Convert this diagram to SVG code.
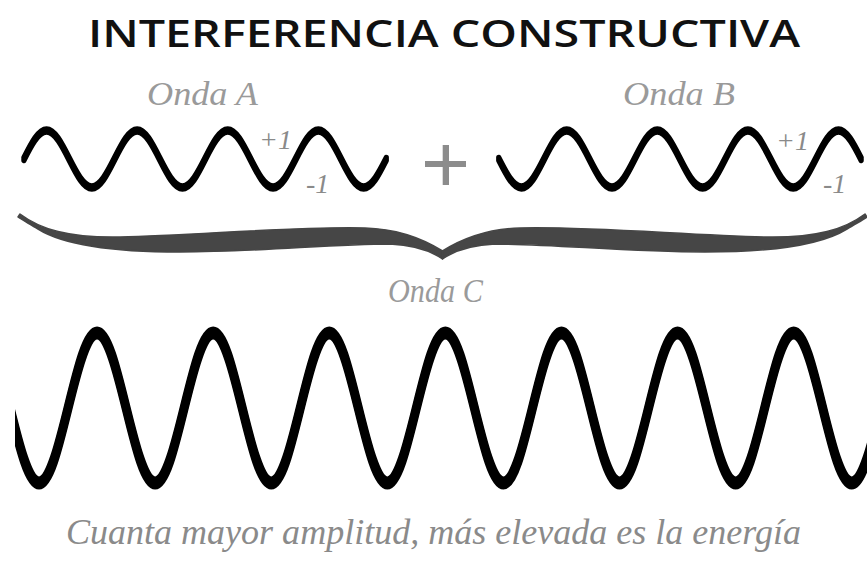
<svg xmlns="http://www.w3.org/2000/svg" xmlns:xlink="http://www.w3.org/1999/xlink" width="867" height="561" viewBox="0 0 867 561">
<style>
.wave{fill:none;stroke:#000;stroke-linecap:round;stroke-linejoin:round}
.sm{stroke-width:5}
.bg{stroke-width:8}
.lbl{font-family:"Liberation Serif","DejaVu Serif",serif;font-style:italic;fill:#9a9a9a}
.num{font-family:"Liberation Serif","DejaVu Serif",serif;font-style:italic;fill:#8a8a8a;font-size:28px}
.title{font-family:"Open Sans","Liberation Sans",sans-serif;font-weight:600;fill:#111;font-size:38px}
.brace{fill:#464646;stroke:#464646;stroke-width:1.5;stroke-linejoin:round}
</style>
<defs>
<path id="sw" d="M0,0 c7.387,-14.6 14.453,-28.5 22.65,-28.5 c8.197,0 15.263,13.9 22.65,28.5 c7.387,14.6 14.453,28.5 22.65,28.5 c8.197,0 15.263,-13.9 22.65,-28.5 c7.387,-14.6 14.453,-28.5 22.65,-28.5 c8.197,0 15.263,13.9 22.65,28.5 c7.387,14.6 14.453,28.5 22.65,28.5 c8.197,0 15.263,-13.9 22.65,-28.5 c7.387,-14.6 14.453,-28.5 22.65,-28.5 c8.197,0 15.263,13.9 22.65,28.5 c7.387,14.6 14.453,28.5 22.65,28.5 c8.197,0 15.263,-13.9 22.65,-28.5 c7.387,-14.6 14.453,-28.5 22.65,-28.5 c8.197,0 15.263,13.9 22.65,28.5 c7.387,14.6 14.453,28.5 22.65,28.5 c8.197,0 15.263,-13.9 22.65,-28.5"/>
<path id="bw" d="M10,408 c9.466,38.422 18.521,75 29.025,75 c10.504,0 19.559,-36.578 29.025,-75 c9.466,-38.422 18.521,-75 29.025,-75 c10.504,0 19.559,36.578 29.025,75 c9.466,38.422 18.521,75 29.025,75 c10.504,0 19.559,-36.578 29.025,-75 c9.466,-38.422 18.521,-75 29.025,-75 c10.504,0 19.559,36.578 29.025,75 c9.466,38.422 18.521,75 29.025,75 c10.504,0 19.559,-36.578 29.025,-75 c9.466,-38.422 18.521,-75 29.025,-75 c10.504,0 19.559,36.578 29.025,75 c9.466,38.422 18.521,75 29.025,75 c10.504,0 19.559,-36.578 29.025,-75 c9.466,-38.422 18.521,-75 29.025,-75 c10.504,0 19.559,36.578 29.025,75 c9.466,38.422 18.521,75 29.025,75 c10.504,0 19.559,-36.578 29.025,-75 c9.466,-38.422 18.521,-75 29.025,-75 c10.504,0 19.559,36.578 29.025,75 c9.466,38.422 18.521,75 29.025,75 c10.504,0 19.559,-36.578 29.025,-75 c9.466,-38.422 18.521,-75 29.025,-75 c10.504,0 19.559,36.578 29.025,75 c9.466,38.422 18.521,75 29.025,75 c10.504,0 19.559,-36.578 29.025,-75 c9.466,-38.422 18.521,-75 29.025,-75 c10.504,0 19.559,36.578 29.025,75 c9.466,38.422 18.521,75 29.025,75 c10.504,0 19.559,-36.578 29.025,-75"/>
<path id="halfbrace" d="M20,214 C40,229 68,238 120,237 C200,235 300,226 365,228 C400,229 425,240 442.5,251 L442.5,259 C428,249 412,245 390,244 C330,244 260,252 180,252 C110,252 62,244 38,229 C30,224 22,220 18,217 Z"/>
<clipPath id="bclip"><rect x="15" y="300" width="860" height="220"/></clipPath>
</defs>
<rect width="867" height="561" fill="#fff"/>
<g id="title">
<text class="title" x="88" y="47" textLength="712" lengthAdjust="spacingAndGlyphs">INTERFERENCIA CONSTRUCTIVA</text>
</g>
<g id="wave-a">
<text class="lbl" x="147" y="105" font-size="34" textLength="111" lengthAdjust="spacingAndGlyphs">Onda A</text>
<g class="wave sm" transform="translate(23.9,159)">
<use xlink:href="#sw" y="-1.75"/>
<use xlink:href="#sw"/>
<use xlink:href="#sw" y="1.75"/>
</g>
<text class="num" x="259" y="149">+1</text>
<text class="num" x="306" y="193">-1</text>
</g>
<g id="plus" fill="#8c8c8c">
<rect x="425" y="161" width="41" height="6"/>
<rect x="442.7" y="145" width="6.3" height="40"/>
</g>
<g id="wave-b">
<text class="lbl" x="623" y="105" font-size="34" textLength="112" lengthAdjust="spacingAndGlyphs">Onda B</text>
<g class="wave sm" transform="translate(498.75,159) scale(1,-1)">
<use xlink:href="#sw" y="-1.75"/>
<use xlink:href="#sw"/>
<use xlink:href="#sw" y="1.75"/>
</g>
<text class="num" x="776" y="150">+1</text>
<text class="num" x="823" y="193">-1</text>
</g>
<g id="connectors">
<use xlink:href="#halfbrace" class="brace"/>
<use xlink:href="#halfbrace" class="brace" transform="matrix(-1 0 0 1 885 0)"/>
</g>
<g id="wave-c">
<text class="lbl" x="388" y="302" font-size="34" textLength="95" lengthAdjust="spacingAndGlyphs">Onda C</text>
<g class="wave bg" clip-path="url(#bclip)">
<use xlink:href="#bw" y="-2.5"/>
<use xlink:href="#bw"/>
<use xlink:href="#bw" y="2.5"/>
</g>
</g>
<g id="caption">
<text class="lbl" x="66" y="544" font-size="36" style="fill:#8a8a8a" textLength="735" lengthAdjust="spacingAndGlyphs">Cuanta mayor amplitud, más elevada es la energía</text>
</g>
</svg>
